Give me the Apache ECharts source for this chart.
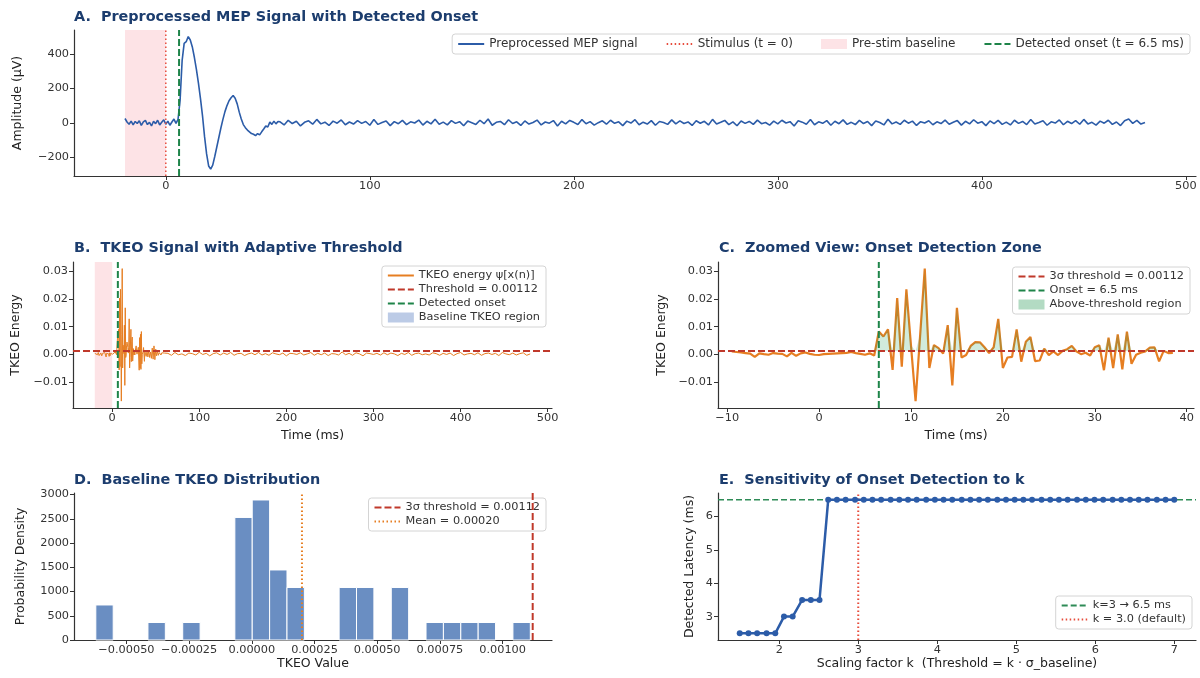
<!DOCTYPE html>
<html>
<head>
<meta charset="utf-8">
<title>MEP onset detection with TKEO</title>
<script src="https://cdn.jsdelivr.net/npm/echarts@6.0.0/dist/echarts.min.js"></script>
<style>
  html, body { margin: 0; padding: 0; background: #fff; }
  #chart { width: 1200px; height: 678px; }
</style>
</head>
<body>
<div id="chart"></div>
<script>
// ---------- values ----------

// A. preprocessed MEP (µV): 1 ms samples from -20 to 55 ms ...
const mepEarly = [
  25, 5, -8, 10, -12, 8, -4, 12, -15, 6, 14, -10, 3, -18, 9, -5, 15, -12, 4, 18,
  -8, 10, -14, 5, 22, -3, 20, 130, 360, 460, 470, 500, 480, 440, 380, 310, 230, 140, 40, -80,
  -180, -250, -268, -245, -195, -140, -85, -30, 20, 65, 100, 128, 145, 158, 142, 110, 62, 22, -10, -28,
  -42, -52, -62, -66, -74, -62, -70, -52, -36, -18, -24, 4, -9, 10, -6, 8
];
// ... then 2 ms samples from 56 to 480 ms
const mepLate = [
  6, -12, 15, -4, 9, -18, 3, 12, -8, 20, -6, 4, -15, 10, -2, 17, -11, 5, -7, 13,
  -3, 8, -14, 19, -9, 2, 11, -16, 7, -5, 14, -10, 6, -1, 16, -13, 9, -6, 21, -8,
  4, -12, 13, -3, 7, -17, 10, 1, -9, 15, -5, 22, -14, 3, 8, -11, 18, -4, 6, -15,
  11, -7, 2, 16, -12, 5, -2, 13, -18, 9, -6, 14, 3, -10, 19, -5, 7, -13, 1, 12,
  -8, 15, -3, 6, -16, 10, -1, 18, -11, 4, -7, 13, -14, 8, 2, -9, 17, -6, 11, -4,
  5, -15, 12, -2, 9, -12, 20, -7, 3, 14, -10, 6, -17, 11, -3, 8, -9, 16, -5, 2,
  -13, 10, -6, 15, -1, 7, -18, 12, 4, -8, 19, -11, 6, -3, 13, -14, 9, -5, 17, -9,
  3, -10, 14, -4, 8, -16, 11, 2, -12, 21, -6, 5, -9, 15, -2, 10, -15, 7, -1, 12,
  -11, 6, -4, 16, -8, 3, 13, -13, 9, -6, 18, -2, 7, -16, 11, -5, 14, -9, 4, -12,
  15, -3, 8, -10, 19, -7, 2, 12, -14, 6, -1, 17, -11, 9, -4, 13, -8, 20, -6, 3,
  -13, 10, -2, 15, -9, 5, -16, 12, 22, -3, 14, -7, 2
];

// TKEO energy. baseline part, 1 ms samples from -20 to -10 ms
const tkeoPre = [0.0003, -0.0004, 0.0005, -0.0002, 0.0006, -0.0005, 0.0002, 0.0004, -0.0006, 0.0003, 0.0001];
// zoomed part (panel C), 0.5 ms samples from -9.5 to 38.5 ms
const zoomTkeo = [
  0.0010, 0.0008, 0.0006, 0.0004, 0.0002, -0.0010, 0.0003, 0.0000, -0.0002, 0.0004,
  0.0002, 0.0001, -0.0008, 0.0005, -0.0006, 0.0003, 0.0006, 0.0001, -0.0002, -0.0003,
  0.0000, 0.0001, 0.0002, 0.0003, 0.0004, 0.0005, 0.0008, 0.0004, 0.0001, -0.0002,
  0.0003, -0.0005,
  0.0082, 0.0064, 0.0090, -0.0057, 0.0203, -0.0045, 0.0235, 0.0032, -0.0170, 0.0070,
  0.0310, -0.0050, 0.0033, 0.0022, 0.0002, 0.0105, -0.0113, 0.0168, -0.0012, -0.0003,
  0.0030, 0.0044, 0.0043, 0.0025, 0.0004, 0.0025, 0.0128, -0.0050, -0.0012, -0.0010,
  0.0090, -0.0027, 0.0045, 0.0062, -0.0025, -0.0023, 0.0020, -0.0003, 0.0010, -0.0003,
  0.0012, 0.0018, 0.0030, 0.0010, 0.0000, 0.0005, -0.0005, 0.0025, 0.0032, -0.0058,
  0.0060, -0.0050, 0.0072, -0.0055, 0.0082, -0.0035, -0.0002, 0.0005, 0.0010, 0.0024,
  0.0025, -0.0026, 0.0012, 0.0004, 0.0005
];
// tail, 1 ms samples from 39 to 60 ms ...
const tkeoTail1 = [
  -0.0008, 0.0012, -0.0010, 0.0015, -0.0012, 0.0008, -0.0015, 0.0022, -0.0018, 0.0030,
  -0.0020, 0.0018, -0.0006, 0.0010, -0.0004, 0.0006, 0.0002, -0.0003, 0.0005, 0.0001,
  -0.0002, 0.0004
];
// ... then 4 ms samples from 64 to 480 ms
const tkeoTail2 = [
  0.0003, -0.0004, 0.0006, -0.0002, 0.0001, -0.0005, 0.0004, 0.0002, -0.0003, 0.0007, -0.0001, 0.0003, -0.0006, 0.0002, 0.0005,
  -0.0003, 0.0004, -0.0001, 0.0006, -0.0004, 0.0002, 0.0003, -0.0005, 0.0001, 0.0004, -0.0002, 0.0006, -0.0003, 0.0002, -0.0004,
  0.0005, 0.0001, -0.0002, 0.0004, -0.0006, 0.0003, 0.0002, -0.0001, 0.0005, -0.0003, 0.0001, 0.0006, -0.0004, 0.0003, -0.0002,
  0.0004, -0.0005, 0.0002, 0.0001, -0.0003, 0.0008, -0.0002, 0.0003, -0.0004, 0.0005, 0.0001, -0.0006, 0.0004, 0.0002, -0.0001,
  0.0003, -0.0003, 0.0005, -0.0002, 0.0004, 0.0001, -0.0005, 0.0003, -0.0001, 0.0006, -0.0004, 0.0002, 0.0004, -0.0002, 0.0001,
  -0.0003, 0.0005, 0.0002, -0.0004, 0.0003, -0.0001, 0.0004, -0.0005, 0.0002, 0.0006, -0.0003, 0.0001, 0.0003, -0.0002, 0.0005,
  -0.0004, 0.0002, 0.0004, -0.0001, 0.0003, -0.0005, 0.0006, 0.0001, -0.0002, 0.0004, -0.0003, 0.0002, 0.0005, -0.0004, 0.0001
];

const THRESHOLD = 0.00112;
const ONSET_MS = 6.5;
const BASELINE_MEAN = 0.0002;
const BASELINE_START = -20;

// D. baseline TKEO histogram (density per bin)
const histStart = -0.000622;
const histBinWidth = 0.0000693;
const histDensity = [722, 0, 0, 361, 0, 361, 0, 0, 2527, 2887, 1444, 1083, 0, 0, 1083, 1083, 0, 1083, 0, 361, 361, 361, 361, 0, 361];

// E. sensitivity to k
const kValues = [
  1.50, 1.61, 1.72, 1.84, 1.95, 2.06, 2.17, 2.29, 2.40, 2.51, 2.62, 2.73, 2.84, 2.96, 3.07, 3.18, 3.29,
  3.41, 3.52, 3.63, 3.74, 3.86, 3.97, 4.08, 4.19, 4.31, 4.42, 4.53, 4.64, 4.76, 4.87, 4.98, 5.09,
  5.20, 5.32, 5.43, 5.54, 5.65, 5.77, 5.88, 5.99, 6.10, 6.22, 6.33, 6.44, 6.55, 6.66, 6.78, 6.89, 7.00
];
const latency = [
  2.5, 2.5, 2.5, 2.5, 2.5, 3.0, 3.0, 3.5, 3.5, 3.5, 6.5, 6.5, 6.5, 6.5, 6.5, 6.5, 6.5,
  6.5, 6.5, 6.5, 6.5, 6.5, 6.5, 6.5, 6.5, 6.5, 6.5, 6.5, 6.5, 6.5, 6.5, 6.5, 6.5,
  6.5, 6.5, 6.5, 6.5, 6.5, 6.5, 6.5, 6.5, 6.5, 6.5, 6.5, 6.5, 6.5, 6.5, 6.5, 6.5, 6.5
];

// ---------- build [x, y] pairs on the sampling grids ----------
const mepData = mepEarly.map((v, i) => [-20 + i, v])
  .concat(mepLate.map((v, i) => [56 + 2 * i, v]));
const zoomData = zoomTkeo.map((v, i) => [-9.5 + 0.5 * i, v]);
const tkeoData = tkeoPre.map((v, i) => [-20 + i, v])
  .concat(zoomData)
  .concat(tkeoTail1.map((v, i) => [39 + i, v]))
  .concat(tkeoTail2.map((v, i) => [64 + 4 * i, v]));
const aboveData = zoomData.map(p => [p[0], Math.max(p[1], THRESHOLD)]);
const histData = [];
histDensity.forEach((d, i) => {
  if (d > 0) histData.push([histStart + i * histBinWidth, histStart + (i + 1) * histBinWidth, d]);
});
const sensData = kValues.map((k, i) => [k, latency[i]]);

// ---------- styles ----------
const FONT = 'DejaVu Sans';
const TITLE_COLOR = '#1c3d6e';
const BLUE = '#2c5ca8';
const ORANGE = '#e67e22';
const RED = '#c0392b';
const RED_DOT = '#e74c3c';
const GREEN = '#1e8449';
const PINK = '#fde3e6';

// axis ranges
const A_X = [-45, 505], A_Y = [-308, 538];
const B_X = [-45, 505], B_Y = [-0.0195, 0.0334];
const C_X = [-11, 40.8], C_Y = B_Y;
const D_X = [-0.000709, 0.001197], D_Y = [0, 3031];
const E_X = [1.225, 7.275], E_Y = [2.3, 6.7];

const minus = s => s.replace('-', '\u2212');
const fmt = d => v => minus(v.toFixed(d));

function axis(gridIndex, range, ticks, decimals, extra) {
  return Object.assign({
    type: 'value', gridIndex: gridIndex, min: range[0], max: range[1],
    axisLine: { show: true, onZero: false, lineStyle: { color: '#333', width: 1.2 } },
    axisTick: { show: true, length: 4, customValues: ticks, lineStyle: { color: '#333' } },
    axisLabel: { color: '#333', fontSize: 11.3, fontFamily: FONT, margin: 5,
                 customValues: ticks, formatter: fmt(decimals) },
    splitLine: { show: false },
    nameLocation: 'middle',
    nameTextStyle: { color: '#222', fontSize: 12.5, fontFamily: FONT }
  }, extra || {});
}

function vline(name, x, yr, idx, color, type, width) {
  return { name: name, type: 'line', xAxisIndex: idx, yAxisIndex: idx,
    data: [[x, yr[0]], [x, yr[1]]], symbol: 'none', silent: true, z: 5,
    lineStyle: { color: color, type: type, width: width }, itemStyle: { color: color } };
}
function hline(name, y, xr, idx, color, type, width) {
  return { name: name, type: 'line', xAxisIndex: idx, yAxisIndex: idx,
    data: [[xr[0], y], [xr[1], y]], symbol: 'none', silent: true, z: 5,
    lineStyle: { color: color, type: type, width: width }, itemStyle: { color: color } };
}
function span(name, x0, x1, yr, idx) {
  return { name: name, type: 'line', xAxisIndex: idx, yAxisIndex: idx,
    data: [[x0, yr[1]], [x1, yr[1]]], symbol: 'none', silent: true, z: 1,
    lineStyle: { width: 0 }, itemStyle: { color: PINK },
    areaStyle: { origin: 'start', color: PINK, opacity: 1 } };
}

// legend icons: line handles only (symbol hidden), patches drawn as rects
function legendBox(extra, fontSize) {
  return Object.assign({
    orient: 'vertical', selectedMode: false,
    backgroundColor: 'rgba(255,255,255,0.9)', borderColor: '#d4d4d4', borderWidth: 1, borderRadius: 3,
    padding: [4, 6, 4, 5], itemWidth: 26, itemHeight: 10, itemGap: 3,
    itemStyle: { opacity: 0 },
    textStyle: { fontFamily: FONT, fontSize: fontSize || 11.3, color: '#333' }
  }, extra);
}
function patch(name, color) {
  return { name: name, icon: 'rect', itemStyle: { color: color, opacity: 1 } };
}

function title(text, left, top) {
  return { text: text, left: left, top: top, padding: 0,
    textStyle: { color: TITLE_COLOR, fontSize: 14.4, fontWeight: 'bold', fontFamily: FONT } };
}

const DASH = [7, 3];
const DOT = [1.5, 2.5];

const chart = echarts.init(document.getElementById('chart'));
chart.setOption({
  animation: false,
  backgroundColor: '#fff',
  title: [
    title('A.  Preprocessed MEP Signal with Detected Onset', 74, 10),
    title('B.  TKEO Signal with Adaptive Threshold', 74, 241),
    title('C.  Zoomed View: Onset Detection Zone', 719, 241),
    title('D.  Baseline TKEO Distribution', 74, 473),
    title('E.  Sensitivity of Onset Detection to k', 719, 473)
  ],
  grid: [
    { left: 74, top: 30, width: 1122, height: 146 },
    { left: 73, top: 262, width: 479, height: 146 },
    { left: 718, top: 262, width: 476, height: 146 },
    { left: 74, top: 493, width: 478, height: 147 },
    { left: 718, top: 493, width: 478, height: 147 }
  ],
  xAxis: [
    axis(0, A_X, [0, 100, 200, 300, 400, 500], 0),
    axis(1, B_X, [0, 100, 200, 300, 400, 500], 0, { name: 'Time (ms)', nameGap: 21 }),
    axis(2, C_X, [-10, 0, 10, 20, 30, 40], 0, { name: 'Time (ms)', nameGap: 21 }),
    axis(3, D_X, [-0.0005, -0.00025, 0, 0.00025, 0.0005, 0.00075, 0.001], 5, { name: 'TKEO Value', nameGap: 17 }),
    axis(4, E_X, [2, 3, 4, 5, 6, 7], 0, { name: 'Scaling factor k  (Threshold = k \u00b7 \u03c3_baseline)', nameGap: 17 })
  ],
  yAxis: [
    axis(0, A_Y, [-200, 0, 200, 400], 0, { name: 'Amplitude (\u03bcV)', nameGap: 50, nameRotate: 90 }),
    axis(1, B_Y, [-0.01, 0, 0.01, 0.02, 0.03], 2, { name: 'TKEO Energy', nameGap: 51, nameRotate: 90 }),
    axis(2, C_Y, [-0.01, 0, 0.01, 0.02, 0.03], 2, { name: 'TKEO Energy', nameGap: 50, nameRotate: 90 }),
    axis(3, D_Y, [0, 500, 1000, 1500, 2000, 2500, 3000], 0, { name: 'Probability Density', nameGap: 47, nameRotate: 90 }),
    axis(4, E_Y, [3, 4, 5, 6], 0, { name: 'Detected Latency (ms)', nameGap: 22, nameRotate: 90 })
  ],
  legend: [
    legendBox({ orient: 'horizontal', right: 10, top: 34, itemGap: 28,
      data: ['Preprocessed MEP signal', 'Stimulus (t = 0)', patch('Pre-stim baseline', PINK),
             'Detected onset (t = 6.5 ms)'] }, 12),
    legendBox({ right: 654, top: 266,
      data: ['TKEO energy \u03c8[x(n)]', 'Threshold = 0.00112', 'Detected onset',
             patch('Baseline TKEO region', '#bccbe6')] }),
    legendBox({ right: 10, top: 267,
      data: ['3\u03c3 threshold = 0.00112', 'Onset = 6.5 ms', patch('Above-threshold region', '#b3dbc3')] }),
    legendBox({ right: 654, top: 498,
      data: ['3\u03c3 threshold = 0.00112', 'Mean = 0.00020'] }),
    legendBox({ right: 8, top: 596,
      data: ['k=3 \u2192 6.5 ms', 'k = 3.0 (default)'] })
  ],
  series: [
    // A
    span('Pre-stim baseline', BASELINE_START, 0, A_Y, 0),
    { name: 'Preprocessed MEP signal', type: 'line', xAxisIndex: 0, yAxisIndex: 0, data: mepData,
      symbol: 'none', z: 3, lineStyle: { color: BLUE, width: 1.6 }, itemStyle: { color: BLUE } },
    vline('Stimulus (t = 0)', 0, A_Y, 0, RED_DOT, DOT, 1.5),
    vline('Detected onset (t = 6.5 ms)', ONSET_MS, A_Y, 0, GREEN, DASH, 2),

    // B
    span('Baseline TKEO region', BASELINE_START, 0, B_Y, 1),
    { name: 'TKEO energy \u03c8[x(n)]', type: 'line', xAxisIndex: 1, yAxisIndex: 1, data: tkeoData,
      symbol: 'none', z: 3, lineStyle: { color: ORANGE, width: 1 }, itemStyle: { color: ORANGE } },
    hline('Threshold = 0.00112', THRESHOLD, B_X, 1, RED, DASH, 2),
    vline('Detected onset', ONSET_MS, B_Y, 1, GREEN, DASH, 2),

    // C
    { name: 'TKEO zoom', type: 'line', xAxisIndex: 2, yAxisIndex: 2, data: zoomData,
      symbol: 'none', z: 3, lineStyle: { color: ORANGE, width: 2.2 }, itemStyle: { color: ORANGE } },
    { name: 'Above-threshold region', type: 'line', xAxisIndex: 2, yAxisIndex: 2, data: aboveData,
      symbol: 'none', silent: true, z: 4, lineStyle: { width: 0 }, itemStyle: { color: '#b3dbc3' },
      areaStyle: { origin: THRESHOLD, color: 'rgba(39,160,90,0.3)' } },
    hline('3\u03c3 threshold = 0.00112', THRESHOLD, C_X, 2, RED, DASH, 2),
    vline('Onset = 6.5 ms', ONSET_MS, C_Y, 2, GREEN, DASH, 2),

    // D
    { name: 'Baseline TKEO', type: 'custom', xAxisIndex: 3, yAxisIndex: 3, data: histData,
      encode: { x: [0, 1], y: 2 }, z: 2,
      renderItem: function (params, api) {
        const top = api.coord([api.value(0), api.value(2)]);
        const bottom = api.coord([api.value(1), 0]);
        return { type: 'rect',
          shape: { x: top[0], y: top[1], width: bottom[0] - top[0], height: bottom[1] - top[1] },
          style: { fill: '#6a8ec2', stroke: '#ffffff', lineWidth: 1 } };
      } },
    vline('3\u03c3 threshold = 0.00112', THRESHOLD, D_Y, 3, RED, DASH, 2),
    vline('Mean = 0.00020', BASELINE_MEAN, D_Y, 3, ORANGE, DOT, 2),

    // E
    hline('k=3 \u2192 6.5 ms', ONSET_MS, E_X, 4, '#2e8b57', [6, 3], 1.5),
    vline('k = 3.0 (default)', 3, E_Y, 4, RED_DOT, DOT, 2),
    { name: 'Detected latency', type: 'line', xAxisIndex: 4, yAxisIndex: 4, data: sensData,
      symbol: 'circle', symbolSize: 6, z: 6,
      lineStyle: { color: BLUE, width: 2.5 }, itemStyle: { color: BLUE } }
  ]
});
</script>
</body>
</html>
